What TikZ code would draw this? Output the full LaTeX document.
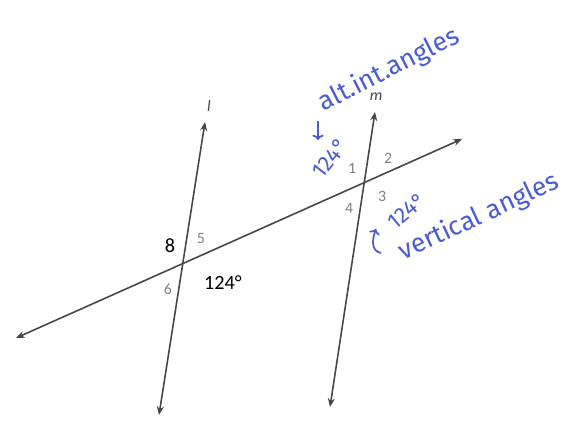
\documentclass[tikz,border=0pt]{standalone}
\usepackage{fontspec}
\setmainfont{Carlito}
\newfontfamily\handfont{Fira Sans}
\usetikzlibrary{arrows.meta}
\definecolor{pen}{RGB}{72,92,212}
\definecolor{ink}{RGB}{70,70,70}
\tikzset{
	line/.style={line width=0.9pt, ink, {Stealth[length=5pt,width=4pt]}-{Stealth[length=5pt,width=4pt]}},
	num/.style={text=gray, font=\fontsize{9}{9}\selectfont, inner sep=0pt},
	big/.style={text=black, font=\fontsize{11.5}{11.5}\selectfont, inner sep=0pt},
	hand/.style={text=pen, font=\handfont\fontsize{15}{15}\selectfont, inner sep=0pt},
	handsmall/.style={hand, font=\handfont\fontsize{12.5}{12.5}\selectfont}
}
\begin{document}
\begin{tikzpicture}[x=0.02cm, y=-0.02cm]
	\useasboundingbox (0,0) rectangle (563,421);
	
	% ends of the lines
	\coordinate (tL) at (16,338);
	\coordinate (tR) at (462,139);
	\coordinate (lT) at (205,122);
	\coordinate (lB) at (159,415);
	\coordinate (mT) at (375,112);
	\coordinate (mB) at (330,407);
	
	\draw[line] (tL) -- (tR);
	\draw[line] (lB) -- (lT);
	\draw[line] (mB) -- (mT);
	
	\node[text=ink, font=\itshape\fontsize{9}{9}\selectfont] (l) at (209,106){l};
	\node[text=ink, font=\itshape\fontsize{9}{9}\selectfont] (m) at (376,97){m};
	
	% angles at l
	\node[big] (a8) at (170,246){8};
	\node[num] (a5) at (201,238){5};
	\node[num] (a6) at (168,289){6};
	\node[big] (a7) at (223,283){124°};
	
	% angles at m
	\node[num] (a1) at (352,168){1};
	\node[num] (a2) at (388,158){2};
	\node[num] (a3) at (382,196){3};
	\node[num] (a4) at (349,208){4};
	
	% notes
	\node[hand, rotate=27] (alt) at (389,70){alt.int.angles};
	\node[handsmall, rotate=52] (v1) at (330,158){124°};
	\node[handsmall, rotate=40] (v3) at (407,211){124°};
	\node[hand, rotate=25] (vert) at (479,217){vertical angles};
	
	\draw[pen, line width=1pt, -{To[length=3pt]}] (318,121) -- (318,140);
	\draw[pen, line width=1pt, -{To[length=3pt]}] (381,253) .. controls (371,251) and (372,240) .. (376,229);
\end{tikzpicture}
\end{document}
